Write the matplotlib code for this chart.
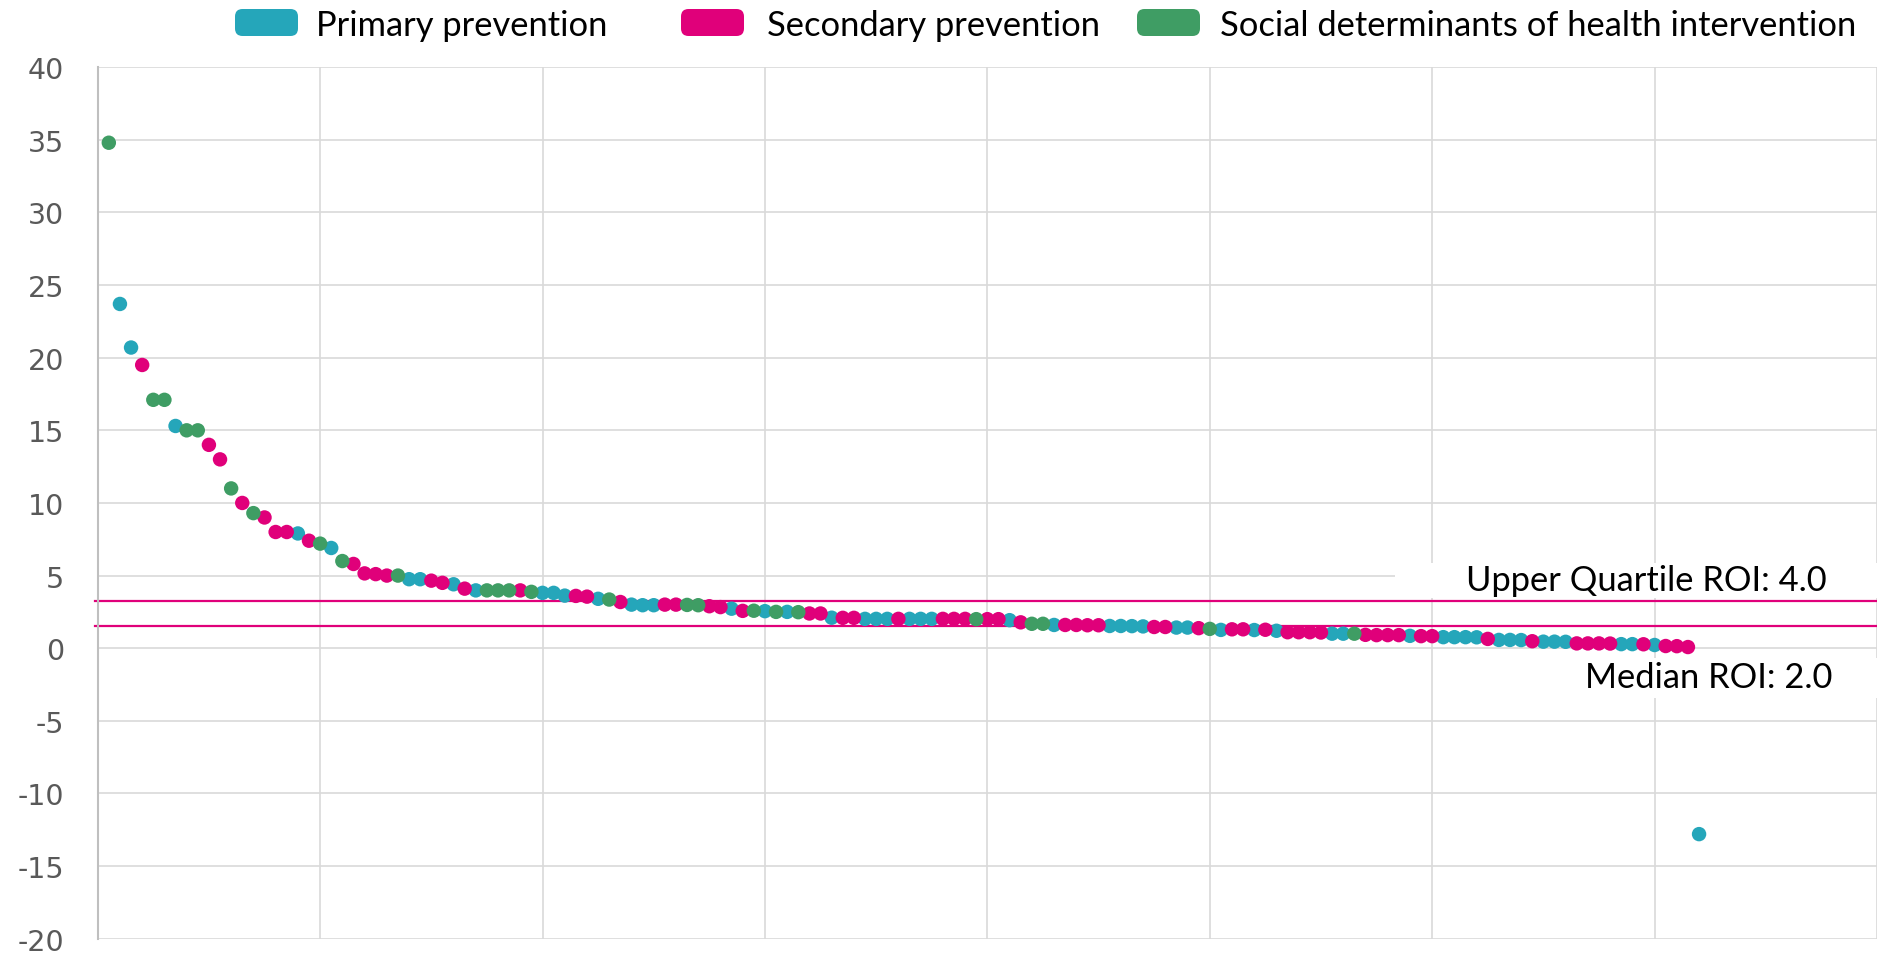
import matplotlib
matplotlib.use("Agg")
import matplotlib.pyplot as plt
from matplotlib.patches import FancyBboxPatch, Rectangle

# ---- data ----
roi_values = [
    34.8, 23.7, 20.7, 19.5, 17.1, 17.1, 15.3, 15.0, 15.0, 14.0,
    13.0, 11.0, 10.0, 9.3, 9.0, 8.0, 8.0, 7.9, 7.4, 7.2,
    6.9, 6.0, 5.8, 5.15, 5.1, 5.0, 5.0, 4.75, 4.75, 4.65,
    4.5, 4.4, 4.1, 3.98, 3.98, 3.98, 3.98, 3.98, 3.88, 3.81,
    3.81, 3.62, 3.6, 3.55, 3.4, 3.35, 3.18, 3.0, 2.96, 2.96,
    3.0, 3.0, 2.98, 2.96, 2.89, 2.83, 2.72, 2.57, 2.58, 2.55,
    2.5, 2.5, 2.48, 2.39, 2.39, 2.1, 2.09, 2.09, 2.02, 2.02,
    2.02, 2.02, 2.02, 2.02, 2.02, 2.02, 2.02, 2.02, 2.0, 2.0,
    2.0, 1.93, 1.78, 1.68, 1.68, 1.6, 1.6, 1.6, 1.58, 1.58,
    1.53, 1.53, 1.52, 1.5, 1.46, 1.46, 1.42, 1.42, 1.38, 1.33,
    1.26, 1.3, 1.3, 1.25, 1.27, 1.2, 1.1, 1.1, 1.1, 1.08,
    1.0, 1.0, 1.0, 0.92, 0.9, 0.9, 0.9, 0.85, 0.83, 0.83,
    0.76, 0.76, 0.76, 0.75, 0.64, 0.57, 0.57, 0.56, 0.48, 0.45,
    0.45, 0.44, 0.33, 0.33, 0.33, 0.32, 0.28, 0.28, 0.27, 0.22,
    0.15, 0.14, 0.08, -12.8,
]
# G = Social determinants, B = Primary prevention, P = Secondary prevention
roi_category = list(
    "GBBPGGBGGP" "PGPGPPPBPG" "BGPPPPGBBP" "PBPBGGGPGB"
    "BBPPBGPBBB" "PPGGPPBPGB" "GBGPPBPPBB" "BPBBBPPPGP"
    "PBPGGBPPPP" "BBBBPPBBPG" "BPPBPBPPPP" "BBGPPPPBPP"
    "BBBBPBBBPB" "BBPPPPBBPB" "PPPB"
)
roi_category = [{"G": "D", "B": "P", "P": "S"}[c] for c in roi_category]

series_names = ["Primary prevention", "Secondary prevention",
                "Social determinants of health intervention"]
series_codes = ["P", "S", "D"]
series_colors = ["#25A6BA", "#E0007A", "#3F9D64"]

upper_quartile_line = 3.25
median_line = 1.5
upper_label = "Upper Quartile ROI: 4.0"
median_label = "Median ROI: 2.0"

y_ticks = list(range(-20, 41, 5))
x_grid = list(range(0, 161, 20))

# ---- figure ----
W, H = 1877, 954
fig = plt.figure(figsize=(W / 100, H / 100), dpi=100)
ax_left, ax_right = 97.7, 1877
ax_top, ax_bottom = 68.2, 939.7
ax = fig.add_axes([ax_left / W, 1 - ax_bottom / H,
                   (ax_right - ax_left) / W, (ax_bottom - ax_top) / H])

ax.set_xlim(0, 160)
ax.set_ylim(-20, 40)
ax.set_xticks(x_grid)
ax.set_xticklabels([])
ax.set_yticks(y_ticks)
ax.set_yticklabels([str(t) for t in y_ticks], fontsize=20.5, color="#595959",
                   family="DejaVu Sans")
ax.tick_params(axis="both", length=0)
ax.tick_params(axis="y", pad=24)
ax.grid(True, color="#d9d9d9", linewidth=1.2, zorder=0)
ax.set_axisbelow(True)
for s in ["top", "right", "bottom"]:
    ax.spines[s].set_visible(False)
ax.spines["left"].set_color("#bfbfbf")
ax.spines["left"].set_linewidth(1.5)

# white label backgrounds covering grid lines
ax.add_patch(Rectangle((116.7, 3.45), 43.3, 2.45, facecolor="white",
                       edgecolor="none", zorder=1))
ax.add_patch(Rectangle((133.5, -3.4), 26.5, 2.7, facecolor="white",
                       edgecolor="none", zorder=1))

# reference lines
for v in (upper_quartile_line, median_line):
    ax.axhline(v, xmin=-0.0015, xmax=1, color="#E0007A", linewidth=1.6,
               zorder=2, clip_on=False)

# points
xs = list(range(1, len(roi_values) + 1))
for code, color in zip(series_codes, series_colors):
    px = [x for x, c in zip(xs, roi_category) if c == code]
    py = [v for v, c in zip(roi_values, roi_category) if c == code]
    ax.scatter(px, py, s=108, color=color, edgecolors="none", zorder=3)

label_font = dict(family=["Lato", "DejaVu Sans"], fontsize=24.8, color="black")
ax.text(155.5, 4.72, upper_label, ha="right", va="center", zorder=4, **label_font)
ax.text(156.0, -2.0, median_label, ha="right", va="center", zorder=4, **label_font)

# legend (manual)
legend_items = [(235, 316), (681, 767), (1137, 1220)]
for (bx, tx), name, color in zip(legend_items, series_names, series_colors):
    box = FancyBboxPatch((bx / W, 1 - 37 / H), 63 / W, 27 / H,
                         boxstyle="round,pad=0,rounding_size=0.004",
                         mutation_aspect=W / H,
                         facecolor=color, edgecolor="none",
                         transform=fig.transFigure)
    fig.add_artist(box)
    fig.text(tx / W, 1 - 26 / H, name, ha="left", va="center", **label_font)

fig.savefig("out.png", dpi=100)
